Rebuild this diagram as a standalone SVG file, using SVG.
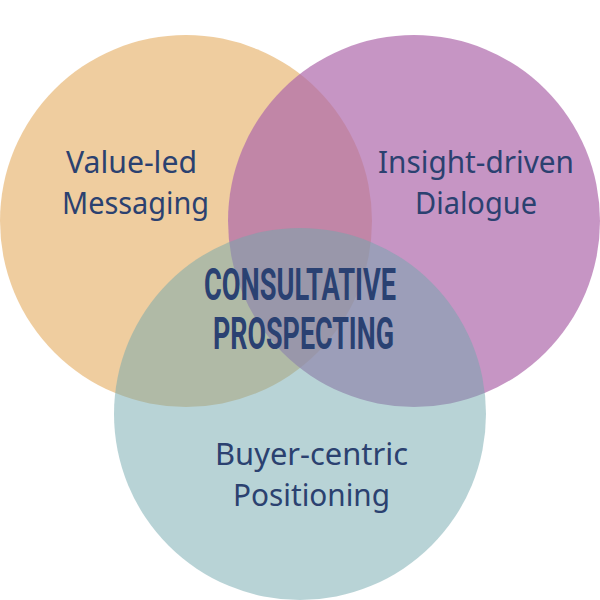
<svg xmlns="http://www.w3.org/2000/svg" width="600" height="600" viewBox="0 0 600 600">
<style>
.l{font-family:"Noto Sans","Open Sans",sans-serif;font-size:30px;fill:#2b4170;text-anchor:middle}
.t{font-family:"Roboto","Liberation Sans",sans-serif;font-weight:700;font-size:45px;fill:#2a4172;text-anchor:middle}
</style>
<rect width="600" height="600" fill="#fff"/>
<g id="node-value"><circle cx="186" cy="221" r="186" fill="#df9b3f" fill-opacity=".5"/></g>
<g id="node-insight"><circle cx="414" cy="221" r="186" fill="#ae68ab" fill-opacity=".7"/></g>
<g id="node-buyer"><circle cx="300" cy="414" r="186" fill="#71a7ad" fill-opacity=".5"/></g>
<g id="labels">
<text class="l" x="131.500" y="173" textLength="131" lengthAdjust="spacingAndGlyphs">Value-led</text>
<text class="l" x="135.500" y="214" textLength="147" lengthAdjust="spacingAndGlyphs">Messaging</text>
<text class="l" x="476" y="173" textLength="196" lengthAdjust="spacingAndGlyphs">Insight-driven</text>
<text class="l" x="476" y="214" textLength="122" lengthAdjust="spacingAndGlyphs">Dialogue</text>
<text class="l" x="311.500" y="465" textLength="193" lengthAdjust="spacingAndGlyphs">Buyer-centric</text>
<text class="l" x="311.500" y="506" textLength="157" lengthAdjust="spacingAndGlyphs">Positioning</text>
<text class="t" x="300" y="300" textLength="192" lengthAdjust="spacingAndGlyphs">CONSULTATIVE</text>
<text class="t" x="303.500" y="349" textLength="181" lengthAdjust="spacingAndGlyphs">PROSPECTING</text>
</g>
</svg>
